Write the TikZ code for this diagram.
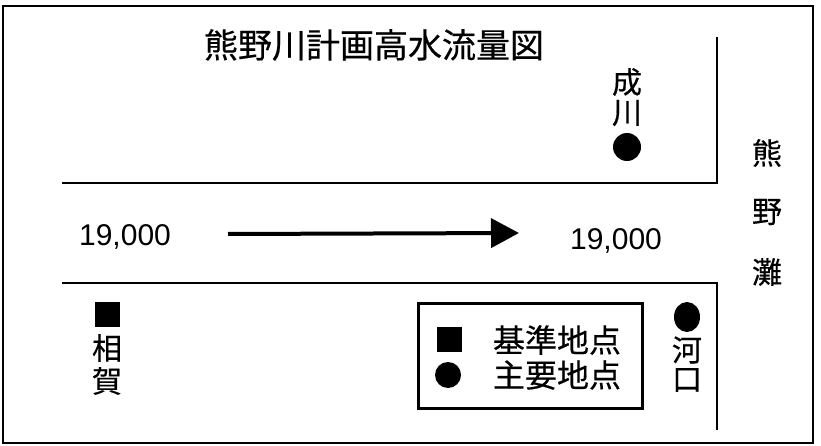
\documentclass[tikz,border=0pt]{standalone}
\usepackage{fontspec}
\setmainfont{Liberation Sans}
\newfontfamily\jp[FakeBold=0.4]{Noto Sans CJK JP}
\usetikzlibrary{arrows.meta,shapes.geometric}
\tikzset{
  frameline/.style={line width=2pt},
  riverline/.style={line width=2pt},
  jlabel/.style={inner sep=0pt, font=\jp\fontsize{30}{33}\selectfont},
  title/.style={inner sep=0pt, font=\jp\fontsize{34}{38}\selectfont},
  legtext/.style={inner sep=0pt, font=\jp\fontsize{32}{34}\selectfont},
  num/.style={inner sep=0pt, font=\fontsize{30}{32}\selectfont},
  dot/.style={fill=black, draw=none},
}
\begin{document}
\begin{tikzpicture}[x=1pt,y=-1pt]
\useasboundingbox (0,0) rectangle (821,446);
\draw[frameline] (3,6) rectangle (813,443);
% river banks
\draw[riverline] (62,183) -- (717,183) -- (717,37);
\draw[riverline] (62,283) -- (717,283) -- (717,430);
% title
\node[title] (title) at (374,45) {熊野川計画高水流量図};
% Narukawa
\node[jlabel] (nar1) at (627,82) {成};
\node[jlabel] (nar2) at (627,113) {川};
\node[dot, circle, minimum size=28pt, inner sep=0pt] (nardot) at (627,147) {};
% Kumanonada
\node[jlabel] (kn1) at (767,153) {熊};
\node[jlabel] (kn2) at (767,212) {野};
\node[jlabel] (kn3) at (767,272) {灘};
% flow
\node[num] (qleft) at (125,237) {19,000};
\node[num] (qright) at (616,241) {19,000};
\coordinate (arrS) at (228,234);
\coordinate (arrE) at (519,233);
\draw[line width=4pt, -{Triangle[length=28pt,width=29pt]}] (arrS) -- (arrE);
% Aiga
\node[dot, rectangle, minimum width=25pt, minimum height=25pt, inner sep=0pt] (aigasq) at (107.5,314.5) {};
\node[jlabel] (aiga1) at (107,348) {相};
\node[jlabel] (aiga2) at (107,381) {賀};
% Kakou
\node[dot, ellipse, minimum width=26pt, minimum height=30pt, inner sep=0pt] (kkdot) at (687,317) {};
\node[jlabel] (kk1) at (687,350) {河};
\node[jlabel] (kk2) at (687,380) {口};
% legend
\node[draw, line width=3pt, minimum width=224pt, minimum height=105pt, inner sep=0pt] (legend) at (530,355.5) {};
\node[dot, rectangle, minimum width=25pt, minimum height=25pt, inner sep=0pt] (legsq) at (449.5,339.5) {};
\node[dot, circle, minimum size=26pt, inner sep=0pt] (legdot) at (448,375) {};
\node[legtext] (leg1) at (557,340) {基準地点};
\node[legtext] (leg2) at (557,375) {主要地点};
\end{tikzpicture}
\end{document}
